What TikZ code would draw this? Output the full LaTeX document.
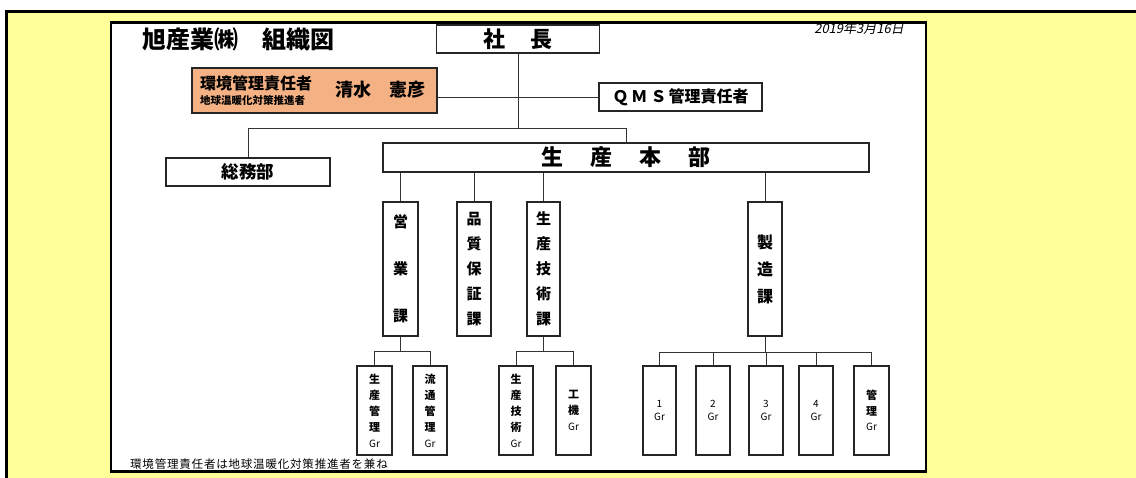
\documentclass[tikz,border=0pt]{standalone}
\usepackage{fontspec}
\setmainfont{Noto Sans CJK JP}
\newfontfamily\datefont{Noto Sans CJK JP}[FakeSlant=0.2]
\definecolor{bgyellow}{HTML}{FFFF99}
\definecolor{orangefill}{HTML}{F4B183}
\begin{document}
\begin{tikzpicture}[x=1pt,y=-1pt,
  box/.style={draw=black!85,line width=1.1pt,fill=white,inner sep=0pt,align=center},
  conn/.style={draw=black!80,line width=1pt},
  fsA/.style={font=\bfseries\fontsize{22}{26}\selectfont},
  fsB/.style={font=\bfseries\fontsize{16}{20}\selectfont},
  vt/.style={font=\bfseries\fontsize{15}{25}\selectfont},
  sm/.style={font=\bfseries\fontsize{11}{16}\selectfont},
  num/.style={font=\fontsize{10}{13}\selectfont}]
\useasboundingbox (0,0) rectangle (1136,477);
\clip (0,0) rectangle (1136,477);
\fill[white] (0,0) rectangle (1136,477);
\fill[bgyellow] (6,11) rectangle (1140,480);
\draw[line width=3pt] (1140,11) -- (6,11) -- (6,480);
\draw[line width=2.5pt,fill=white] (111,22.5) rectangle (926,471.5);

% title and date
\node[anchor=west,inner sep=0pt,font=\bfseries\fontsize{24}{26}\selectfont] (title) at (142,39) {旭産業㈱　組織図};
\node[anchor=east,inner sep=0pt,font=\datefont\fontsize{13}{15}\selectfont] (date) at (904,29) {2019年3月16日};

% top
\node[box,fsA,minimum width=163pt,minimum height=28pt] (shacho) at (518,39) {社\hspace{26pt}長};
\node[box,fill=orangefill,minimum width=245pt,minimum height=45pt] (kankyo) at (314.5,90.5) {};
\node[anchor=west,inner sep=0pt,font=\bfseries\fontsize{16}{18}\selectfont] (kk1) at (200,83) {環境管理責任者};
\node[anchor=west,inner sep=0pt,font=\bfseries\fontsize{10.5}{12}\selectfont] (kk2) at (200,100.5) {地球温暖化対策推進者};
\node[anchor=west,inner sep=0pt,font=\bfseries\fontsize{18}{20}\selectfont] (kk3) at (335,90) {清水　憲彦};
\node[box,fsB,minimum width=163pt,minimum height=28pt] (qms) at (680.5,97) {Ｑ\hspace{3pt}Ｍ\hspace{3pt}Ｓ\hspace{2pt}管理責任者};
\node[box,font=\bfseries\fontsize{17.5}{20}\selectfont,minimum width=164pt,minimum height=28pt] (somu) at (248,172) {総務部};
\node[box,fsA,minimum width=486pt,minimum height=29pt] (honbu) at (626,157.5) {生\hspace{27pt}産\hspace{27pt}本\hspace{27pt}部};

% sections
\node[box,font=\bfseries\fontsize{15}{47}\selectfont,minimum width=35pt,minimum height=134pt] (eigyo) at (400.5,269) {営\\業\\課};
\node[box,vt,minimum width=34pt,minimum height=134pt] (hinshitsu) at (474,269) {品\\質\\保\\証\\課};
\node[box,vt,minimum width=33pt,minimum height=134pt] (gijutsu) at (543.5,269) {生\\産\\技\\術\\課};
\node[box,font=\bfseries\fontsize{16}{27}\selectfont,minimum width=34pt,minimum height=134pt] (seizo) at (765,269) {製\\造\\課};

% groups
\node[box,sm,minimum width=35pt,minimum height=89pt] (gA) at (374.5,410.5) {生\\産\\管\\理\\{\mdseries\fontsize{10}{16}\selectfont Gr}};
\node[box,sm,minimum width=34pt,minimum height=89pt] (gB) at (430,410.5) {流\\通\\管\\理\\{\mdseries\fontsize{10}{16}\selectfont Gr}};
\node[box,sm,minimum width=34pt,minimum height=89pt] (gC) at (516,410.5) {生\\産\\技\\術\\{\mdseries\fontsize{10}{16}\selectfont Gr}};
\node[box,sm,minimum width=35pt,minimum height=89pt] (gD) at (573.5,410.5) {工\\機\\{\mdseries\fontsize{10}{16}\selectfont Gr}};
\node[box,num,minimum width=33pt,minimum height=89pt] (g1) at (659.5,410.5) {1\\Gr};
\node[box,num,minimum width=34pt,minimum height=89pt] (g2) at (713,410.5) {2\\Gr};
\node[box,num,minimum width=34pt,minimum height=89pt] (g3) at (766,410.5) {3\\Gr};
\node[box,num,minimum width=34pt,minimum height=89pt] (g4) at (816,410.5) {4\\Gr};
\node[box,font=\bfseries\fontsize{11}{15.5}\selectfont,minimum width=35pt,minimum height=89pt] (g5) at (871.5,410.5) {管\\理\\{\mdseries\fontsize{10}{15.5}\selectfont Gr}};

% footnote
\node[anchor=west,inner sep=0pt,font=\fontsize{11.5}{13}\selectfont\addfontfeature{LetterSpace=7}] (note) at (130,464) {環境管理責任者は地球温暖化対策推進者を兼ね};

% connectors
\coordinate (j0) at (0,128);
\coordinate (hA) at (0,351);
\coordinate (hB) at (0,352);
\draw[conn] (shacho.south) -- (shacho.south |- j0);
\draw[conn] (somu.north) |- (honbu.north |- j0) -- (honbu.north);
\draw[conn] (qms.west) -- (qms.west -| kankyo.east);
\draw[conn] (honbu.south -| eigyo.north) -- (eigyo.north);
\draw[conn] (honbu.south -| hinshitsu.north) -- (hinshitsu.north);
\draw[conn] (honbu.south -| gijutsu.north) -- (gijutsu.north);
\draw[conn] (honbu.south -| seizo.north) -- (seizo.north);
\draw[conn] (eigyo.south) -- (eigyo.south |- hA);
\draw[conn] (gA.north) |- (gB.north |- hA) -- (gB.north);
\draw[conn] (gijutsu.south) -- (gijutsu.south |- hA);
\draw[conn] (gC.north) |- (gD.north |- hA) -- (gD.north);
\draw[conn] (seizo.south) -- (seizo.south |- hB);
\draw[conn] (g1.north) |- (g5.north |- hB) -- (g5.north);
\draw[conn] (g2.north) -- (g2.north |- hB);
\draw[conn] (g3.north) -- (g3.north |- hB);
\draw[conn] (g4.north) -- (g4.north |- hB);
\end{tikzpicture}
\end{document}
